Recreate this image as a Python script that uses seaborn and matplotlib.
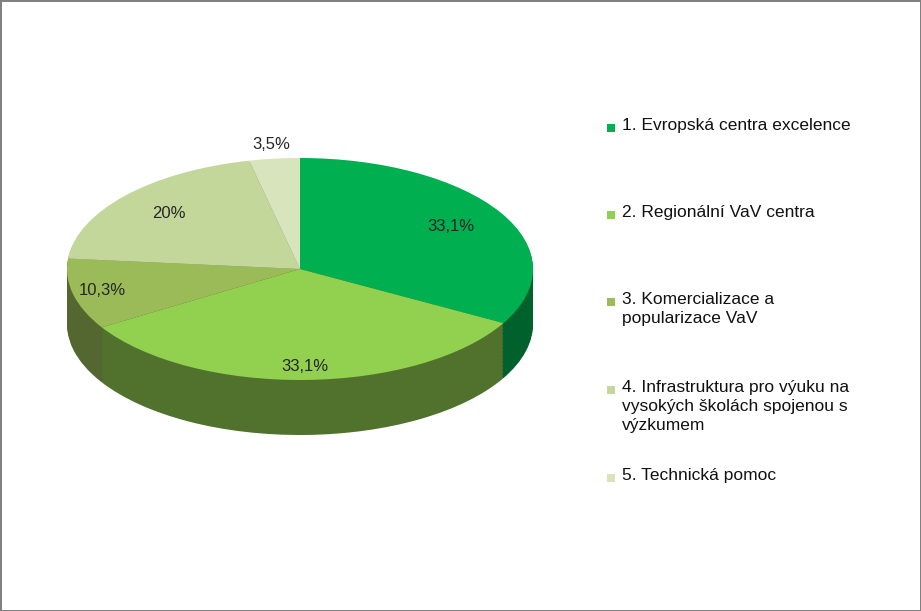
import matplotlib
matplotlib.use("Agg")
import matplotlib.pyplot as plt
import seaborn as sns
import numpy as np
from matplotlib.patches import Rectangle
import matplotlib.colors as mc

sns.set_theme(style="white")
categories = ["1. Evropská centra excelence", "2. Regionální VaV centra",
              "3. Komercializace a\npopularizace VaV",
              "4. Infrastruktura pro výuku na\nvysokých školách spojenou s\nvýzkumem",
              "5. Technická pomoc"]
values = [33.1, 33.1, 10.3, 20.0, 3.5]
labels = ["33,1%", "33,1%", "10,3%", "20%", "3,5%"]
colors = ["#00B050", "#92D050", "#9BBB59", "#C4D79B", "#D8E4BC"]
label_dist = [0.75, 0.88, 0.87, 0.75, 1.13]

fig = plt.figure(figsize=(9.21, 6.11), dpi=100)
fig.patch.set_edgecolor("#808080"); fig.patch.set_linewidth(2)
W, H = 921, 611
cy = 611 - 269
ry = 111
ax = fig.add_axes([8.75 / W, (cy - 1.9 * ry) / H, 582.5 / W, 3.3 * ry / H])

dark = [tuple(np.array(mc.to_rgb(c)) * 0.55) for c in colors]
depth = 55 / ry
for d in np.linspace(depth, 0.01, 40):
    ax.pie(values, colors=dark, startangle=90, counterclock=False,
           center=(0, -d), radius=1, wedgeprops=dict(linewidth=0))
ax.pie(values, colors=colors, startangle=90, counterclock=False,
       radius=1, wedgeprops=dict(linewidth=0))
total = sum(values)
cum = 0
for v, lab, dist in zip(values, labels, label_dist):
    mid = np.deg2rad(90 - 360 * (cum + v / 2) / total)
    cum += v
    ax.text(dist * np.cos(mid), dist * np.sin(mid), lab, ha="center", va="center",
            fontsize=12, family="Liberation Sans")
ax.set_aspect("auto")
ax.set_xlim(-1.25, 1.25)
ax.set_ylim(-1.9, 1.4)
ax.axis("off")

first_line_y = [128, 215, 302, 390, 478]
for cat, c, y in zip(categories, colors, first_line_y):
    fig.add_artist(Rectangle((607 / W, 1 - (y + 4) / H), 8 / W, 8 / H,
                             transform=fig.transFigure, facecolor=c, edgecolor="none"))
    fig.text(622 / W, 1 - (y - 10) / H, cat, ha="left", va="top", fontsize=12.5,
             family="Liberation Sans", linespacing=1.35, color="#111111")
fig.savefig("out.png", dpi=100, edgecolor=fig.get_edgecolor())
